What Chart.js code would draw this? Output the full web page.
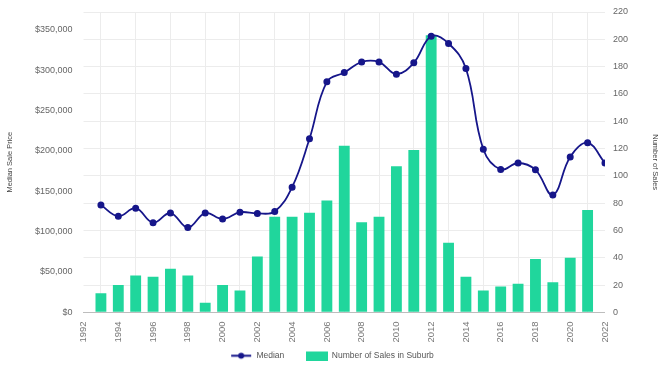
<!DOCTYPE html>
<html>
<head>
<meta charset="utf-8">
<script src="https://cdn.jsdelivr.net/npm/chart.js@4"></script>
<style>
  html, body { margin: 0; padding: 0; background: #fff; }
  #wrap { width: 664px; height: 367px; }
</style>
</head>
<body>
<div id="wrap"><canvas id="sales-chart" width="664" height="367"></canvas></div>
<script>
// DATA
const medianYears = [1993, 1994, 1995, 1996, 1997, 1998, 1999, 2000, 2001, 2002,
  2003, 2004, 2005, 2006, 2007, 2008, 2009, 2010, 2011, 2012,
  2013, 2014, 2015, 2016, 2017, 2018, 2019, 2020, 2021, 2022];
const medianPrice = [133000, 119000, 129000, 111000, 123000, 105000, 123000, 115500, 124000, 122500,
  125000, 155000, 215000, 285500, 297000, 310000, 310000, 295000, 309000, 342000,
  333000, 302000, 202000, 177000, 185000, 176500, 145500, 192500, 210000, 185000];
const salesYears = [1993, 1994, 1995, 1996, 1997, 1998, 1999, 2000, 2001, 2002,
  2003, 2004, 2005, 2006, 2007, 2008, 2009, 2010, 2011, 2012,
  2013, 2014, 2015, 2016, 2017, 2018, 2019, 2020, 2021];
const salesCount = [14, 20, 27, 26, 32, 27, 7, 20, 16, 41,
  70, 70, 73, 82, 122, 66, 70, 107, 119, 203,
  51, 26, 16, 19, 21, 39, 22, 40, 75];
const priceTicks = [0, 50000, 100000, 150000, 200000, 250000, 300000, 350000];

// STYLE
const lineColor = "#16168a";
const barColor = "#20d69c";
const textColor = "#666666";
const gridColor = "#ececec";
const family = "'Liberation Sans', Arial, sans-serif";
const tickFont = { family: family, size: 9 };
const titleFont = { family: family, size: 7.5 };

// legend swatches
const makeSwatch = (drawFn) => {
  const c = document.createElement("canvas");
  c.width = 22;
  c.height = 11;
  drawFn(c.getContext("2d"));
  return c;
};
const lineSwatch = makeSwatch((ctx) => {
  ctx.strokeStyle = lineColor;
  ctx.lineWidth = 2;
  ctx.beginPath();
  ctx.moveTo(1, 5.5);
  ctx.lineTo(21, 5.5);
  ctx.stroke();
  ctx.fillStyle = lineColor;
  ctx.beginPath();
  ctx.arc(11, 5.5, 3, 0, Math.PI * 2);
  ctx.fill();
});
const barSwatch = makeSwatch((ctx) => {
  ctx.fillStyle = barColor;
  ctx.fillRect(0, 0, 22, 11);
});

const toPoints = (xs, ys) => xs.map((x, i) => ({ x: x, y: ys[i] }));

const data = {
  datasets: [
    {
      type: "line",
      label: "Median",
      data: toPoints(medianYears, medianPrice),
      yAxisID: "yPrice",
      borderColor: lineColor,
      backgroundColor: lineColor,
      borderWidth: 1.8,
      pointRadius: 2.6,
      pointHoverRadius: 2.6,
      tension: 0.4,
      order: 0,
    },
    {
      type: "bar",
      label: "Number of Sales in Suburb",
      data: toPoints(salesYears, salesCount),
      yAxisID: "ySales",
      backgroundColor: barColor,
      borderWidth: 0,
      categoryPercentage: 0.8,
      barPercentage: 0.78,
      order: 1,
    },
  ],
};

const config = {
  type: "bar",
  data: data,
  options: {
    responsive: false,
    animation: false,
    layout: { padding: { left: 2, right: 2, top: 12, bottom: -3 } },
    plugins: {
      tooltip: { enabled: false },
      legend: {
        position: "bottom",
        labels: {
          color: "#555",
          font: { family: family, size: 8.5 },
          usePointStyle: true,
          pointStyleWidth: 22,
          boxHeight: 11,
          padding: 0,
          generateLabels: (chart) => {
            const items = Chart.defaults.plugins.legend.labels.generateLabels(chart);
            items[0].pointStyle = lineSwatch;
            items[0].text = items[0].text + "\u2003\u2003\u2002";
            items[1].pointStyle = barSwatch;
            return items;
          },
        },
      },
    },
    scales: {
      x: {
        type: "linear",
        min: 1992,
        max: 2022,
        offset: false,
        ticks: {
          stepSize: 2,
          color: "#777",
          font: { family: family, size: 9.5 },
          padding: 9,
          minRotation: 90,
          maxRotation: 90,
          callback: (v) => String(v),
        },
        grid: { color: gridColor, drawTicks: false },
        border: { color: "#bdbdbd" },
      },
      yPrice: {
        position: "left",
        min: 0,
        max: 372000,
        afterBuildTicks: (axis) => {
          axis.ticks = priceTicks.map((v) => ({ value: v }));
        },
        ticks: {
          color: textColor,
          font: tickFont,
          padding: 3,
          callback: (v) => "$" + v.toLocaleString("en-US"),
        },
        // transparent tick marks keep the labels clear of the plot
        grid: { drawOnChartArea: false, drawTicks: true, tickLength: 8, tickColor: "transparent" },
        border: { display: false },
        title: { display: true, text: "Median Sale Price", color: "#444", font: titleFont, padding: { top: 3, bottom: 18 } },
      },
      ySales: {
        position: "right",
        min: 0,
        max: 220,
        ticks: { stepSize: 20, color: textColor, font: tickFont, padding: 2 },
        grid: { color: gridColor, drawTicks: true, tickLength: 6, tickColor: "transparent" },
        border: { display: false },
        title: { display: true, text: "Number of Sales", color: "#444", font: titleFont, padding: { top: 2, bottom: 21 } },
      },
    },
  },
};

new Chart(document.getElementById("sales-chart"), config);
</script>
</body>
</html>
